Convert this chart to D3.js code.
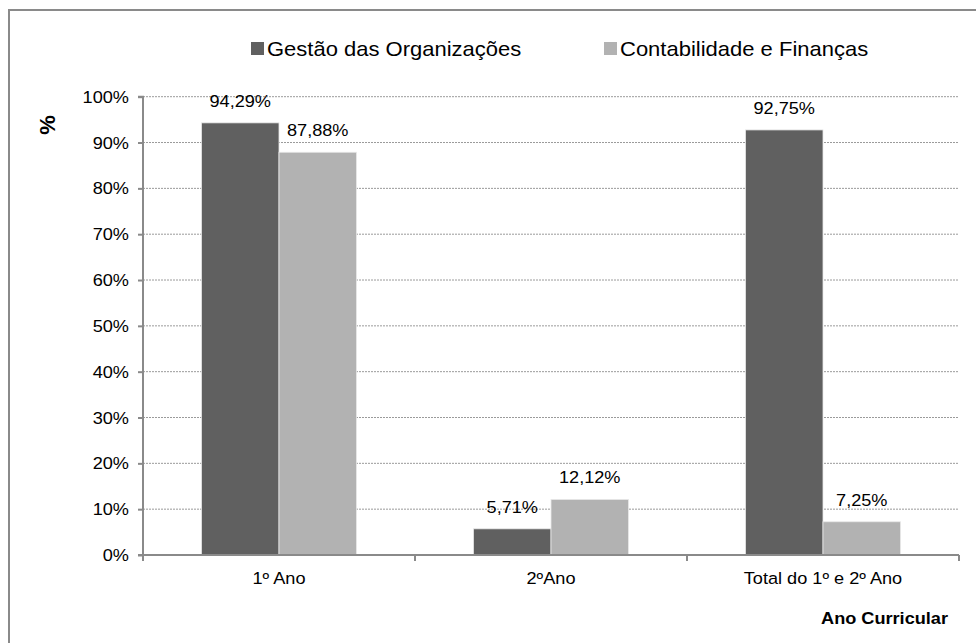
<!DOCTYPE html>
<html><head><meta charset="utf-8">
<script src="https://cdn.jsdelivr.net/npm/d3@7"></script>
<style>body{margin:0;background:#fff}svg{display:block}text{font-family:"Liberation Sans",Arial,sans-serif;fill:#000}</style>
</head><body><svg id="c" width="976" height="643"></svg>
<script>
const categories = ["1º Ano", "2ºAno", "Total do 1º e 2º Ano"];
const seriesNames = ["Gestão das Organizações", "Contabilidade e Finanças"];
const gestao = [94.29, 5.71, 92.75];
const contab = [87.88, 12.12, 7.25];
const yTicks = [0,10,20,30,40,50,60,70,80,90,100];
const colors = ["#606060", "#b2b2b2"];
const series = [gestao, contab];

const svg = d3.select("#c");
const SX = 1.1;
function txt(g, x, y, s, size, anchor, weight){
  return g.append("text").attr("transform",`translate(${x},${y}) scale(${SX},1)`)
    .attr("text-anchor",anchor||"middle").style("font-size",size+"px")
    .style("font-weight",weight||"normal").text(s);
}

// outer border (cropped at right/bottom)
svg.append("path").attr("d","M9,643 V10 H976").attr("fill","none").attr("stroke","#8a8a8a").attr("stroke-width",2);

const L=143, R=959, T=96.7, B=555;
const x = d3.scaleBand().domain(categories).range([L,R]).paddingInner(0).paddingOuter(0);
const y = d3.scaleLinear().domain([0,100]).range([B,T]);
const groupW = 155;
const x1 = d3.scaleBand().domain([0,1]).range([0,groupW]);

// gridlines
svg.append("g").selectAll("line").data(yTicks.filter(d=>d>0)).join("line")
  .attr("x1",L).attr("x2",R).attr("y1",d=>y(d)).attr("y2",d=>y(d))
  .attr("stroke","#9a9a9a").attr("stroke-width",1).attr("stroke-dasharray","2,1");

// bars
categories.forEach((c,i)=>{
  const gx = x(c) + (x.bandwidth()-groupW)/2;
  series.forEach((s,j)=>{
    svg.append("rect").attr("x",gx+x1(j)).attr("width",x1.bandwidth())
      .attr("y",y(s[i])).attr("height",B-y(s[i]))
      .attr("fill",colors[j]).attr("stroke","#e8e8e8").attr("stroke-width",0.8);
    const lbl = s[i].toFixed(2).replace(".",",")+"%";
    txt(svg, gx+x1(j)+x1.bandwidth()/2, y(s[i])-16, lbl, 16.5);
  });
});

// y axis
const yAxis = svg.append("g").attr("transform",`translate(${L},0)`)
  .call(d3.axisLeft(y).tickValues(yTicks).tickSize(5).tickFormat(d=>d+"%"));
yAxis.select(".domain").attr("stroke","#8a8a8a").attr("stroke-width",2).attr("d",`M-5,${T}H0V${B}H-5`);
yAxis.selectAll(".tick line").attr("stroke","#8a8a8a").attr("stroke-width",2);
yAxis.selectAll(".tick text").remove();
yTicks.forEach(t=>txt(svg, L-14, y(t)+6, t+"%", 16.5, "end"));

// x axis
const xAxis = svg.append("g").attr("transform",`translate(0,${B})`)
  .call(d3.axisBottom(x).tickSize(0).tickFormat(""));
xAxis.select(".domain").attr("stroke","#8a8a8a").attr("stroke-width",2).attr("d",`M${L},0H${R}`);
const bounds = [L, ...categories.map(c=>x(c)+x.bandwidth())];
svg.append("g").selectAll("line").data(bounds).join("line")
  .attr("x1",d=>d).attr("x2",d=>d).attr("y1",B).attr("y2",B+6)
  .attr("stroke","#8a8a8a").attr("stroke-width",2);
categories.forEach(c=>txt(svg, x(c)+x.bandwidth()/2, 584, c, 16.5));

// axis titles
svg.append("text").attr("transform","translate(55,125) rotate(-90)").attr("text-anchor","middle")
  .style("font-size","22px").style("font-weight","bold").text("%");
txt(svg, 948, 624, "Ano Curricular", 16.5, "end", "bold");

// legend
const legX = [251, 604];
seriesNames.forEach((n,j)=>{
  svg.append("rect").attr("x",legX[j]).attr("y",42).attr("width",13).attr("height",13).attr("fill",colors[j]);
  txt(svg, legX[j]+16, 56, n, 20, "start");
});
</script></body></html>
